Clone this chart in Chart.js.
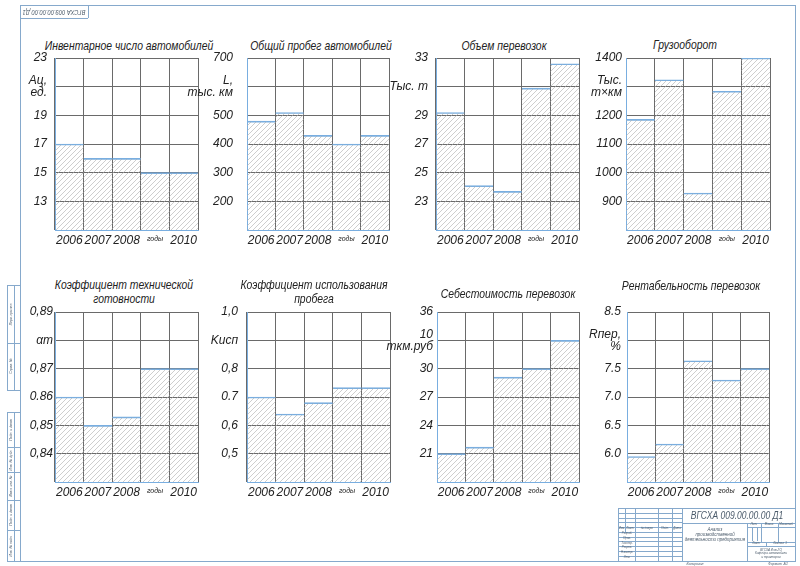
<!DOCTYPE html>
<html lang="ru">
<head>
<meta charset="utf-8">
<title>Анализ производственной деятельности предприятия</title>
<script src="https://cdn.jsdelivr.net/npm/chart.js@4.4.1/dist/chart.umd.min.js"></script>
<style>
  html, body { margin: 0; padding: 0; background: #fff; }
  body {
    width: 800px; height: 566px; position: relative; overflow: hidden;
    font-family: "Liberation Sans", "DejaVu Sans", sans-serif;
    font-style: italic; color: #222;
  }
  .line { position: absolute; background: #86a9cc; }
  .plot { position: absolute; }
  .title { position: absolute; transform: translate(-50%, -50%) scaleX(0.8); white-space: pre; text-align: center; font-size: 13px; line-height: 14px; }
  .tiny { position: absolute; white-space: pre; text-align: center; color: #4a5a6a; line-height: 1; }
</style>
</head>
<body>
<script>
const years = ["2006", "2007", "2008", "годы", "2010"];

const inventory = [17, 16, 16, 15, 15];
const inventoryTicks = [11, 13, 15, 17, 19, 21, 23];
const inventoryLabels = ["", "13", "15", "17", "19", ["Aц,", "ед."], "23"];

const mileage = [480, 510, 430, 400, 430];
const mileageTicks = [100, 200, 300, 400, 500, 600, 700];
const mileageLabels = ["", "200", "300", "400", "500", ["L,", "тыс. км"], "700"];

const volume = [29.2, 24.1, 23.7, 30.9, 32.6];
const volumeTicks = [21, 23, 25, 27, 29, 31, 33];
const volumeLabels = ["", "23", "25", "27", "29", "Тыс. т", "33"];

const turnover = [1186, 1324, 929, 1284, 1400];
const turnoverTicks = [800, 900, 1000, 1100, 1200, 1300, 1400];
const turnoverLabels = ["", "900", "1000", "1100", "1200", ["Тыс.", "т×км"], "1400"];

const readiness = [0.86, 0.85, 0.853, 0.87, 0.87];
const readinessTicks = [0.83, 0.84, 0.85, 0.86, 0.87, 0.88, 0.89];
const readinessLabels = ["", "0,84", "0,85", "0.86", "0,87", "αт", "0,89"];

const mileageUse = [0.70, 0.64, 0.68, 0.733, 0.733];
const mileageUseTicks = [0.4, 0.5, 0.6, 0.7, 0.8, 0.9, 1.0];
const mileageUseLabels = ["", "0,5", "0,6", "0.7", "0,8", "Kисп", "1,0"];

const cost = [21, 21.7, 29.1, 30, 33];
const costTicks = [18, 21, 24, 27, 30, 33, 36];
const costLabels = ["", "21", "24", "27", "30", ["10", "ткм.руб"], "36"];

const profit = [5.95, 6.17, 7.64, 7.3, 7.5];
const profitTicks = [5.5, 6.0, 6.5, 7.0, 7.5, 8.0, 8.5];
const profitLabels = ["", "6.0", "6.5", "7.0", "7.5", ["Rпер,", "%"], "8.5"];

const charts = [
  { title: "Инвентарное число автомобилей", values: inventory, ticks: inventoryTicks, labels: inventoryLabels },
  { title: "Общий пробег автомобилей", values: mileage, ticks: mileageTicks, labels: mileageLabels },
  { title: "Объем перевозок", values: volume, ticks: volumeTicks, labels: volumeLabels },
  { title: "Грузооборот", values: turnover, ticks: turnoverTicks, labels: turnoverLabels },
  { title: "Коэффициент технической\nготовности", values: readiness, ticks: readinessTicks, labels: readinessLabels },
  { title: "Коэффициент использования\nпробега", values: mileageUse, ticks: mileageUseTicks, labels: mileageUseLabels },
  { title: "Себестоимость перевозок", values: cost, ticks: costTicks, labels: costLabels },
  { title: "Рентабельность перевозок", values: profit, ticks: profitTicks, labels: profitLabels },
];

// plot area: left, top, right, bottom, tick padding, title centre x, title centre y
const boxes = [
  [55, 58, 198, 230, 8, 129, 46],
  [247, 58, 389, 230, 14, 321, 46],
  [436, 58, 579, 230, 8, 504, 46],
  [626, 58, 770, 230, 4, 685, 45],
  [55, 312, 198, 482, 2, 124, 292],
  [247, 312, 390, 482, 9, 314, 292],
  [437, 312, 579, 482, 4, 508, 294],
  [627, 312, 769, 482, 6, 691, 286],
];

const FONT = "'Liberation Sans', 'DejaVu Sans', sans-serif";
const AXIS_W = 62, TOP_PAD = 10, RIGHT_PAD = 6, X_H = 22;
const BLUE = "#79aee0";
const GRID = "#6a6a6a";

function hatch() {
  const s = 5;
  const c = document.createElement("canvas");
  c.width = s;
  c.height = s;
  const g = c.getContext("2d");
  g.strokeStyle = "#acacac";
  g.lineWidth = 0.6;
  g.beginPath();
  g.moveTo(0, s); g.lineTo(s, 0);
  g.moveTo(-1, 1); g.lineTo(1, -1);
  g.moveTo(s - 1, s + 1); g.lineTo(s + 1, s - 1);
  g.stroke();
  return g.createPattern(c, "repeat");
}
const pattern = hatch();

charts.forEach((c, i) => {
  const [L, T, R, B, pad, tx, ty] = boxes[i];

  const title = document.createElement("div");
  title.className = "title";
  title.style.left = tx + "px";
  title.style.top = ty + "px";
  title.textContent = c.title;
  document.body.appendChild(title);

  const holder = document.createElement("div");
  holder.className = "plot";
  holder.style.left = (L - AXIS_W) + "px";
  holder.style.top = (T - TOP_PAD) + "px";
  holder.style.width = (R - L + AXIS_W + RIGHT_PAD) + "px";
  holder.style.height = (B - T + TOP_PAD + X_H) + "px";
  const canvas = document.createElement("canvas");
  holder.appendChild(canvas);
  document.body.appendChild(holder);

  new Chart(canvas, {
    type: "bar",
    data: {
      labels: years,
      datasets: [
        {
          data: c.values,
          backgroundColor: pattern,
          borderColor: BLUE,
          borderWidth: { top: 1, right: 0, bottom: 0, left: 0 },
          borderSkipped: false,
          barPercentage: 1,
          categoryPercentage: 1,
        },
      ],
    },
    options: {
      animation: false,
      responsive: true,
      maintainAspectRatio: false,
      layout: { padding: { top: TOP_PAD, right: RIGHT_PAD, left: 0, bottom: 0 } },
      plugins: { legend: false, title: false, tooltip: false },
      scales: {
        x: {
          grid: { color: GRID, lineWidth: 1, offset: true, drawTicks: false },
          border: { color: BLUE, width: 1 },
          ticks: {
            autoSkip: false,
            maxRotation: 0,
            padding: 3,
            color: "#222",
            font: (ctx) =>
              ctx.index === 3
                ? { family: FONT, style: "italic", size: 7, lineHeight: 1.8 }
                : { family: FONT, style: "italic", size: 12, lineHeight: 1.2 },
          },
          afterFit: (scale) => {
            scale.height = X_H;
            scale.paddingLeft = 0;
            scale.paddingRight = 0;
          },
        },
        y: {
          min: c.ticks[0],
          max: c.ticks[c.ticks.length - 1],
          beginAtZero: false,
          grid: { color: GRID, lineWidth: 1, drawTicks: false },
          border: { color: BLUE, width: 1 },
          afterBuildTicks: (scale) => {
            scale.ticks = c.ticks.map((v) => ({ value: v }));
          },
          ticks: {
            padding: pad,
            color: "#222",
            font: { family: FONT, style: "italic", size: 12, lineHeight: 1.0 },
            callback: (value, index) => c.labels[index],
          },
          afterFit: (scale) => {
            scale.width = AXIS_W;
            scale.paddingTop = 0;
            scale.paddingBottom = 0;
          },
        },
      },
    },
  });
});

// drawing frame and title block
function line(x1, y1, x2, y2) {
  const d = document.createElement("div");
  d.className = "line";
  d.style.left = Math.min(x1, x2) + "px";
  d.style.top = Math.min(y1, y2) + "px";
  d.style.width = Math.max(Math.abs(x2 - x1), 1) + "px";
  d.style.height = Math.max(Math.abs(y2 - y1), 1) + "px";
  document.body.appendChild(d);
}
function note(x, y, text, size, rot) {
  const d = document.createElement("div");
  d.className = "tiny";
  d.style.left = x + "px";
  d.style.top = y + "px";
  d.style.fontSize = size + "px";
  d.style.transform = "translate(-50%, -50%)" + (rot ? " rotate(" + rot + "deg)" : "") + " scaleX(0.85)";
  d.textContent = text;
  document.body.appendChild(d);
}

line(20, 5, 795, 5);
line(20, 561, 796, 561);
line(20, 5, 20, 561);
line(795, 5, 795, 561);

// upside-down designation in the top-left corner
line(88, 5, 88, 18);
line(20, 18, 88, 18);
note(54, 11.5, "ВГСХА 009.00.00.00 Д1", 6.8, 180);

// left margin strip
[[285, 390, [343]], [412, 561, [447, 472, 500, 530]]].forEach(([y1, y2, splits]) => {
  line(7, y1, 7, y2);
  line(14, y1, 14, y2);
  [y1, ...splits, y2].forEach((y) => line(7, y, 20, y));
});
note(10.5, 314, "Перв. примен.", 4, -90);
note(10.5, 366, "Справ. №", 4, -90);
note(10.5, 430, "Подп. и дата", 4, -90);
note(10.5, 460, "Инв. № дубл.", 4, -90);
note(10.5, 486, "Взам. инв. №", 4, -90);
note(10.5, 515, "Подп. и дата", 4, -90);
note(10.5, 546, "Инв. № подл.", 4, -90);

// title block
line(618, 508, 795, 508);
line(618, 508, 618, 561);
[625, 635].forEach((x) => line(x, 508, x, 532));
[658, 672].forEach((x) => line(x, 508, x, 561));
line(635, 532, 635, 561);
line(682, 508, 682, 561);
[512.8, 517.5, 522.3, 527, 531.8, 536.6, 541.3, 546.1, 550.9, 555.6].forEach((y) => line(618, y, 682, y));
note(621.5, 529.4, "Изм.", 3.4);
note(630, 529.4, "Лист", 3.4);
note(646.5, 529.4, "№ докум.", 3.4);
note(665, 529.4, "Подп.", 3.4);
note(677, 529.4, "Дата", 3.4);
["Разраб.", "Пров.", "Т.контр.", "Реценз.", "Н.контр.", "Утв."].forEach((s, k) => {
  note(626.5, 534.2 + k * 4.76, s, 3.4);
});

line(682, 522.5, 795, 522.5);
note(737, 516, "ВГСХА 009.00.00.00 Д1", 10);
note(715, 534.5, "Анализ\nпроизводственной\nдеятельности предприятия", 5.2);

line(747, 522.5, 747, 561);
line(747, 527.2, 795, 527.2);
line(747, 541.5, 795, 541.5);
line(747, 546.3, 795, 546.3);
[761.3, 777.5].forEach((x) => line(x, 522.5, x, 541.5));
[752, 756.7].forEach((x) => line(x, 527.2, x, 541.5));
line(766, 541.5, 766, 546.3);
note(754, 525, "Лит.", 3.4);
note(769.4, 525, "Масса", 3.4);
note(786.2, 525, "Масштаб", 3.4);
note(756, 544, "Лист", 3.4);
note(780, 544, "Листов  1", 3.4);
note(771, 553.8, "ВГСХА Инж-ГО\nКафедра автомобили\nи тракторов", 3.6);

note(695, 564, "Копировал", 4);
note(778, 564, "Формат  А1", 4);
</script>
</body>
</html>
